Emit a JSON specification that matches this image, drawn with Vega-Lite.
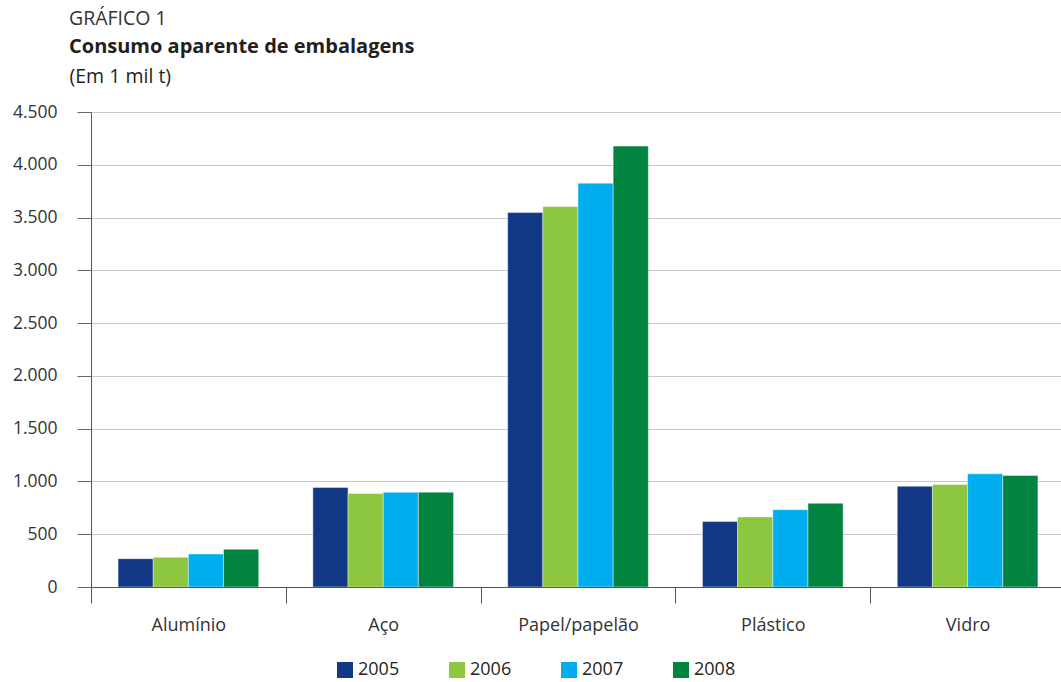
{
  "$schema": "https://vega.github.io/schema/vega-lite/v6.json",
  "width": 974,
  "height": 475,
  "autosize": {"type": "none"},
  "padding": {"left": 91, "top": 112, "right": 0, "bottom": 95},
  "background": "white",
  "title": {
    "text": "GRÁFICO 1",
    "subtitle": "Consumo aparente de embalagens",
    "anchor": "start",
    "frame": "group",
    "dx": -22,
    "offset": 8,
    "font": "Open Sans",
    "fontSize": 19.5,
    "fontWeight": "normal",
    "color": "#333333",
    "subtitleFont": "Open Sans",
    "subtitleFontSize": 20,
    "subtitleFontWeight": "bold",
    "subtitleColor": "#231f20",
    "subtitlePadding": 8
  },
  "data": {
    "values": [
      {"material": "Alumínio", "ano": "2005", "valor": 268},
      {"material": "Alumínio", "ano": "2006", "valor": 281},
      {"material": "Alumínio", "ano": "2007", "valor": 313},
      {"material": "Alumínio", "ano": "2008", "valor": 358},
      {"material": "Aço", "ano": "2005", "valor": 943},
      {"material": "Aço", "ano": "2006", "valor": 886},
      {"material": "Aço", "ano": "2007", "valor": 898},
      {"material": "Aço", "ano": "2008", "valor": 898},
      {"material": "Papel/papelão", "ano": "2005", "valor": 3547},
      {"material": "Papel/papelão", "ano": "2006", "valor": 3604},
      {"material": "Papel/papelão", "ano": "2007", "valor": 3826},
      {"material": "Papel/papelão", "ano": "2008", "valor": 4177},
      {"material": "Plástico", "ano": "2005", "valor": 620},
      {"material": "Plástico", "ano": "2006", "valor": 664},
      {"material": "Plástico", "ano": "2007", "valor": 733},
      {"material": "Plástico", "ano": "2008", "valor": 793},
      {"material": "Vidro", "ano": "2005", "valor": 954},
      {"material": "Vidro", "ano": "2006", "valor": 971},
      {"material": "Vidro", "ano": "2007", "valor": 1072},
      {"material": "Vidro", "ano": "2008", "valor": 1056}
    ]
  },
  "mark": {"type": "bar", "stroke": "#ffffff", "strokeWidth": 0.6, "strokeOpacity": 0.7},
  "encoding": {
    "x": {
      "field": "material",
      "type": "nominal",
      "sort": null,
      "scale": {"paddingInner": 0, "paddingOuter": 0},
      "axis": {
        "title": null,
        "labelAngle": 0,
        "tickBand": "extent",
        "tickSize": 16,
        "tickColor": "#555555",
        "domainColor": "#555555",
        "labelPadding": 13,
        "labelFont": "Open Sans",
        "labelFontSize": 18,
        "labelColor": "#333333",
        "zindex": 1
      }
    },
    "xOffset": {
      "field": "ano",
      "type": "nominal",
      "scale": {"paddingInner": 0, "paddingOuter": 0.77}
    },
    "y": {
      "field": "valor",
      "type": "quantitative",
      "scale": {"domain": [0, 4500], "nice": false},
      "axis": {
        "title": "(Em 1 mil t)",
        "titleAngle": 0,
        "titleAlign": "left",
        "titleBaseline": "alphabetic",
        "titleX": -22,
        "titleY": -30,
        "titleFont": "Open Sans",
        "titleFontSize": 19.5,
        "titleFontWeight": "normal",
        "titleColor": "#231f20",
        "values": [0, 500, 1000, 1500, 2000, 2500, 3000, 3500, 4000, 4500],
        "labelExpr": "replace(format(datum.value, ','), ',', '.')",
        "grid": true,
        "gridColor": "#c8c8c8",
        "gridWidth": 1,
        "domainColor": "#555555",
        "tickSize": 14,
        "tickColor": "#666666",
        "labelPadding": 20,
        "labelFont": "Open Sans",
        "labelFontSize": 17.5,
        "labelColor": "#333333"
      }
    },
    "color": {
      "field": "ano",
      "type": "nominal",
      "scale": {
        "domain": ["2005", "2006", "2007", "2008"],
        "range": ["#123885", "#8dc63f", "#00aeef", "#00843f"]
      },
      "legend": {
        "title": null,
        "orient": "none",
        "legendX": 245,
        "legendY": 549,
        "direction": "horizontal",
        "columns": 4,
        "symbolType": "square",
        "symbolSize": 256,
        "symbolStrokeWidth": 0,
        "labelFont": "Open Sans",
        "labelFontSize": 18,
        "labelColor": "#231f20",
        "labelOffset": 4,
        "columnPadding": 48,
        "padding": 0
      }
    }
  },
  "config": {
    "view": {"stroke": null},
    "font": "Open Sans"
  }
}
